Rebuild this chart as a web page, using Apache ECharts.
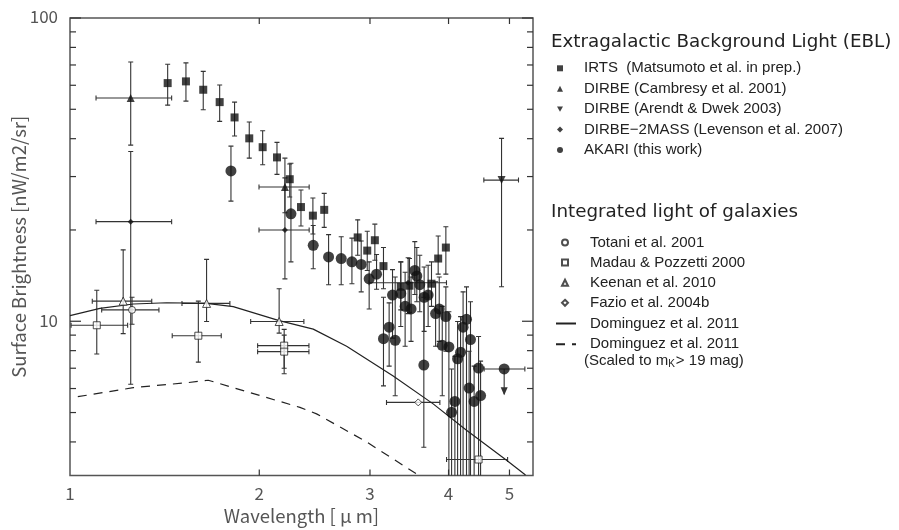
<!DOCTYPE html>
<html>
<head>
<meta charset="utf-8">
<script src="https://cdn.jsdelivr.net/npm/echarts@6/dist/echarts.min.js"></script>
<style>
  html, body { margin: 0; padding: 0; background: #fff; }
  #chart { width: 899px; height: 530px; }
</style>
</head>
<body>
<div id="chart"></div>
<script>
// axis range (wavelength in micron, surface brightness in nW/m2/sr)
const X_MIN = 1, X_MAX = 5.45, Y_MIN = 3.1, Y_MAX = 100;

const xTickVals = [1, 2, 3, 4, 5];
const xTickLabels = ['1', '2', '3', '4', '5'];
const yMajorTicks = [10, 100];
const yMinorTicks = [4, 5, 6, 7, 8, 9, 20, 30, 40, 50, 60, 70, 80, 90];

// IRTS (Matsumoto et al.)
const irtsX  = [1.430, 1.529, 1.629, 1.730, 1.827, 1.928, 2.025, 2.134, 2.236, 2.330, 2.434, 2.537, 2.868, 2.970, 3.054, 3.152, 3.358, 3.467, 3.758, 3.851, 3.961];
const irtsY  = [61.0, 61.8, 58.0, 52.8, 47.0, 40.1, 37.5, 34.7, 29.4, 23.8, 22.3, 23.3, 18.9, 17.1, 18.5, 15.2, 13.0, 13.1, 13.3, 16.1, 17.5];
const irtsLo = [51.6, 53.2, 49.8, 45.6, 40.8, 34.5, 32.8, 30.5, 25.7, 20.6, 19.4, 20.4, 16.5, 14.7, 15.9, 12.8, 10.9, 10.7, 11.2, 14.3, 14.3];
const irtsHi = [70.4, 71.1, 66.7, 60.1, 52.8, 45.4, 42.5, 38.9, 33.0, 27.1, 25.5, 26.4, 21.6, 19.8, 20.9, 17.5, 15.7, 16.1, 15.7, 19.1, 20.5];

// DIRBE (Cambresy et al. 2001)
const cambX   = [1.249, 2.197];
const cambY   = [54.5, 27.7];
const cambXLo = [1.100, 1.998];
const cambXHi = [1.451, 2.401];
const cambLo  = [38.1, 22.8];
const cambHi  = [71.6, 34.5];

// DIRBE (Arendt & Dwek 2003)
const arendtX   = [4.857];
const arendtY   = [29.2];
const arendtXLo = [4.552];
const arendtXHi = [5.168];
const arendtLo  = [13.0];
const arendtHi  = [40.1];

// DIRBE-2MASS (Levenson et al. 2007)
const levX   = [1.249, 2.197, 3.45];
const levY   = [21.3, 20.0, 13.4];
const levXLo = [1.100, 1.998, 2.99];
const levXHi = [1.451, 2.401, 3.97];
const levLo  = [6.20, 13.8, 10.6];
const levHi  = [36.3, 29.7, 16.2];

// AKARI (this work)
const akariX  = [1.803, 2.246, 2.437, 2.578, 2.700, 2.808, 2.905, 2.991, 3.073, 3.152, 3.218, 3.290, 3.258, 3.358, 3.412, 3.487, 3.535, 3.561, 3.600, 3.658, 3.712, 3.654, 3.815, 3.866, 3.909, 3.961, 4.005, 4.135, 4.180, 4.219, 4.272, 4.335, 4.465, 4.313, 4.498, 4.393, 4.094, 4.045];
const akariY  = [31.3, 22.6, 17.8, 16.3, 16.1, 15.7, 15.4, 13.8, 14.3, 8.76, 9.56, 8.65, 12.2, 12.35, 11.2, 10.98, 14.7, 14.1, 13.2, 12.0, 12.2, 7.17, 10.6, 10.98, 8.33, 10.36, 8.23, 7.52, 7.90, 9.56, 10.15, 8.70, 7.01, 6.02, 5.69, 5.44, 5.44, 5.01];
const akariLo = [24.9, 15.7, 14.9, 13.2, 13.2, 13.3, 12.5, 10.98, 12.75, 6.12, 7.11, 5.68, 8.80, 9.61, 8.27, 8.58, 12.25, 11.6, 10.75, 9.26, 9.61, 3.84, 8.27, 8.58, 5.68, 7.96, 3.0, 3.0, 3.0, 3.0, 3.0, 3.0, 3.0, 3.0, 3.0, 3.0, 3.0, 3.0];
const akariHi = [37.8, 33.2, 20.7, 19.3, 19.0, 18.8, 18.4, 15.7, 16.6, 12.0, 11.5, 14.0, 14.8, 15.7, 14.5, 14.0, 18.3, 17.5, 16.5, 15.1, 15.3, 12.0, 13.5, 14.0, 11.2, 12.98, 10.75, 9.98, 10.36, 12.5, 12.98, 11.6, 8.91, 7.96, 7.39, 7.11, 7.67, 6.96];
// AKARI upper limit
const limX   = [4.904];
const limY   = [6.96];
const limXLo = [4.557];
const limXHi = [5.290];
const limTo  = [5.75];

// Totani et al. 2001
const totX = [1.255], totY = [10.9], totXLo = [1.123], totXHi = [1.385], totLo = [9.78], totHi = [12.0];
// Madau & Pozzetti 2000
const madX   = [1.103, 1.600, 2.191, 2.191, 4.465];
const madY   = [9.70, 8.96, 8.31, 7.94, 3.50];
const madXLo = [1.004, 1.454, 1.988, 1.988, 3.971];
const madXHi = [1.235, 1.740, 2.399, 2.399, 4.966];
const madLo  = [7.80, 7.33, 7.0, 6.71, 3.50];
const madHi  = [12.66, 11.65, 9.4, 9.0, 3.50];
// Keenan et al. 2010
const keeX   = [1.215, 1.649, 2.151];
const keeY   = [11.65, 11.45, 9.98];
const keeXLo = [1.085, 1.507, 1.938];
const keeXHi = [1.349, 1.796, 2.355];
const keeLo  = [9.10, 9.98, 9.14];
const keeHi  = [17.2, 16.0, 12.8];
// Fazio et al. 2004b
const fazX = [3.58], fazY = [5.40], fazXLo = [3.187], fazXHi = [3.875];

// Dominguez et al. 2011 model, and scaled to mK > 19
const domX   = [1.0, 1.116, 1.261, 1.425, 1.649, 1.818, 2.151, 2.437, 2.754, 3.266, 3.781, 4.272, 4.947, 5.303];
const domY   = [10.44, 11.03, 11.40, 11.51, 11.45, 11.17, 10.05, 9.42, 8.27, 6.60, 5.34, 4.37, 3.48, 3.11];
const domScX = [1.029, 1.261, 1.533, 1.659, 2.321, 2.467, 2.963, 3.58];
const domScY = [5.64, 6.04, 6.27, 6.39, 5.20, 4.95, 4.00, 3.11];

const eblNames = ['IRTS  (Matsumoto et al. in prep.)', 'DIRBE (Cambresy et al. 2001)', 'DIRBE (Arendt & Dwek 2003)', 'DIRBE\u22122MASS (Levenson et al. 2007)', 'AKARI (this work)'];
const galNames = ['Totani et al. 2001', 'Madau & Pozzetti 2000', 'Keenan et al. 2010', 'Fazio et al. 2004b'];
const modelNames = ['Dominguez et al. 2011', 'Dominguez et al. 2011 (scaled)'];

const INK = '#111';
const BAR = '#333';
const AXIS_FONT = '"Noto Sans CJK JP", "DejaVu Sans", sans-serif';

function pts(xs, ys) {
  return xs.map((x, i) => [x, ys[i]]);
}
function bars(xs, ys, xlo, xhi, ylo, yhi) {
  return xs.map((x, i) => [x, ys[i],
    xlo ? xlo[i] : x, xhi ? xhi[i] : x,
    ylo ? ylo[i] : ys[i], yhi ? yhi[i] : ys[i]]);
}

const errData = [].concat(
  bars(irtsX, irtsY, null, null, irtsLo, irtsHi),
  bars(cambX, cambY, cambXLo, cambXHi, cambLo, cambHi),
  bars(arendtX, arendtY, arendtXLo, arendtXHi, arendtLo, arendtHi),
  bars(levX, levY, levXLo, levXHi, levLo, levHi),
  bars(akariX, akariY, null, null, akariLo, akariHi),
  bars(limX, limY, limXLo, limXHi, null, null),
  bars(totX, totY, totXLo, totXHi, totLo, totHi),
  bars(madX, madY, madXLo, madXHi, madLo, madHi),
  bars(keeX, keeY, keeXLo, keeXHi, keeLo, keeHi),
  bars(fazX, fazY, fazXLo, fazXHi, null, null)
);

function seg(x1, y1, x2, y2, w) {
  return { type: 'line', shape: { x1, y1, x2, y2 }, style: { stroke: BAR, lineWidth: w || 1.1 } };
}

function renderErr(params, api) {
  const x = api.value(0), y = api.value(1);
  const xl = api.value(2), xh = api.value(3), yl = api.value(4), yh = api.value(5);
  const kids = [];
  const cap = 2.5;
  if (yl !== yh) {
    const a = api.coord([x, yl]), b = api.coord([x, yh]);
    kids.push(seg(a[0], a[1], b[0], b[1]));
    kids.push(seg(a[0] - cap, a[1], a[0] + cap, a[1]));
    kids.push(seg(b[0] - cap, b[1], b[0] + cap, b[1]));
  }
  if (xl !== xh) {
    const a = api.coord([xl, y]), b = api.coord([xh, y]);
    kids.push(seg(a[0], a[1], b[0], b[1]));
    kids.push(seg(a[0], a[1] - cap, a[0], a[1] + cap));
    kids.push(seg(b[0], b[1] - cap, b[0], b[1] + cap));
  }
  return { type: 'group', children: kids };
}

function renderLimit(params, api) {
  const p = api.coord([api.value(0), api.value(1)]);
  const e = api.coord([api.value(0), api.value(2)]);
  return {
    type: 'group',
    children: [
      seg(p[0], p[1], e[0], e[1]),
      { type: 'polygon', shape: { points: [[e[0] - 3.5, e[1] - 7], [e[0] + 3.5, e[1] - 7], [e[0], e[1] + 1]] }, style: { fill: BAR } }
    ]
  };
}

function renderXTicks(params, api) {
  const x = api.value(0);
  const b = api.coord([x, Y_MIN]);
  const t = api.coord([x, Y_MAX]);
  const kids = [];
  if (x > X_MIN) {
    kids.push(seg(b[0], b[1], b[0], b[1] - 6, 1.2));
    kids.push(seg(t[0], t[1], t[0], t[1] + 6, 1.2));
  }
  kids.push({
    type: 'text',
    style: {
      text: xTickLabels[params.dataIndex], x: b[0], y: b[1] + 18,
      align: 'center', verticalAlign: 'middle', textAlign: 'center', textVerticalAlign: 'middle',
      font: '17px ' + AXIS_FONT, fill: '#555'
    }
  });
  return { type: 'group', children: kids };
}

function renderYTicks(params, api) {
  const v = api.value(1);
  const major = api.value(2) === 1;
  const l = api.coord([X_MIN, v]);
  const r = api.coord([X_MAX, v]);
  const len = major ? 11 : 6;
  const kids = [
    seg(l[0], l[1], l[0] + len, l[1], 1.2),
    seg(r[0], r[1], r[0] - len, r[1], 1.2)
  ];
  if (major) {
    kids.push({
      type: 'text',
      style: {
        text: String(v), x: l[0] - 12, y: l[1] - 1,
        align: 'right', verticalAlign: 'middle', textAlign: 'right', textVerticalAlign: 'middle',
        font: '17px ' + AXIS_FONT, fill: '#555'
      }
    });
  }
  return { type: 'group', children: kids };
}

const yTickData = yMajorTicks.map(v => [X_MIN, v, 1]).concat(yMinorTicks.map(v => [X_MIN, v, 0]));

const filled = { color: INK };
const open = { color: '#fff', borderColor: '#222', borderWidth: 1 };
const legendText = { fontFamily: 'Liberation Sans', fontSize: 15, color: '#222', lineHeight: 16 };
const hideDot = { color: 'rgba(0,0,0,0)', borderWidth: 0, opacity: 0 };

const chart = echarts.init(document.getElementById('chart'));
const option = {
  animation: false,
  backgroundColor: '#fff',
  grid: { left: 70, right: 366, top: 18, bottom: 50, show: true, borderColor: '#555', borderWidth: 1.5 },
  xAxis: {
    type: 'log', logBase: 10, min: X_MIN, max: X_MAX,
    name: 'Wavelength [ \u03bc m]', nameLocation: 'middle', nameGap: 31,
    nameTextStyle: { fontFamily: AXIS_FONT, fontSize: 18.5, color: '#555' },
    axisLine: { show: false }, axisTick: { show: false }, axisLabel: { show: false }, splitLine: { show: false }
  },
  yAxis: {
    type: 'log', logBase: 10, min: Y_MIN, max: Y_MAX,
    name: 'Surface Brightness [nW/m2/sr]', nameLocation: 'middle', nameGap: 42, nameRotate: 90,
    nameTextStyle: { fontFamily: AXIS_FONT, fontSize: 18.5, color: '#555' },
    axisLine: { show: false }, axisTick: { show: false }, axisLabel: { show: false }, splitLine: { show: false }
  },
  legend: [
    {
      data: eblNames.map((n, i) => i === 2 ? { name: n, icon: 'path://M0,0L10,0L5,8.66Z' } : n),
      orient: 'vertical', left: 552, top: 55.3,
      itemWidth: 6, itemHeight: 6, itemGap: 4.4, selectedMode: false,
      textStyle: Object.assign({ padding: [0, 0, 0, 16] }, legendText)
    },
    {
      data: galNames, orient: 'vertical', left: 556, top: 229.5,
      itemWidth: 6, itemHeight: 6, itemGap: 4.1, selectedMode: false,
      textStyle: Object.assign({ padding: [0, 0, 0, 17] }, legendText)
    },
    {
      data: modelNames.map(n => ({ name: n, itemStyle: hideDot })), orient: 'vertical', left: 550, top: 310.5,
      itemWidth: 20, itemHeight: 6, itemGap: 4.7, selectedMode: false,
      formatter: n => n.replace(' (scaled)', ''),
      textStyle: Object.assign({ padding: [0, 0, 0, 9] }, legendText)
    }
  ],
  graphic: [
    { type: 'text', left: 551, top: 33, style: { text: 'Extragalactic Background Light (EBL)', font: '18.3px "DejaVu Sans"', fill: '#222' } },
    { type: 'text', left: 551, top: 203, style: { text: 'Integrated light of galaxies', font: '18.3px "DejaVu Sans"', fill: '#222' } },
    {
      type: 'text', left: 584, top: 353,
      style: {
        text: '(Scaled to m{sub|K}> 19 mag)', font: '15px "Liberation Sans"', fill: '#222',
        rich: { sub: { fontSize: 10, fontFamily: 'Liberation Sans', padding: [8, 1, 0, 0], fill: '#222' } }
      }
    }
  ],
  series: [
    { type: 'custom', name: 'errors', renderItem: renderErr, data: errData, encode: { x: 0, y: 1 }, clip: true, z: 2, silent: true },
    { type: 'custom', name: 'limit', renderItem: renderLimit, data: limX.map((x, i) => [x, limY[i], limTo[i]]), encode: { x: 0, y: 1 }, clip: true, z: 2, silent: true },
    { type: 'custom', name: 'xticks', renderItem: renderXTicks, data: xTickVals.map(v => [v, Y_MIN]), encode: { x: 0, y: 1 }, clip: false, z: 5, silent: true },
    { type: 'custom', name: 'yticks', renderItem: renderYTicks, data: yTickData, encode: { x: 0, y: 1 }, clip: false, z: 5, silent: true },
    { type: 'line', name: modelNames[0], data: pts(domX, domY), symbol: 'none', lineStyle: { color: '#222', width: 1.2 }, itemStyle: { color: '#222' }, z: 3 },
    { type: 'line', name: modelNames[1], data: pts(domScX, domScY), symbol: 'none', lineStyle: { color: '#222', width: 1.2, type: [9, 7] }, itemStyle: { color: '#222' }, z: 3 },
    { type: 'scatter', name: eblNames[0], data: pts(irtsX, irtsY), symbol: 'rect', symbolSize: 8, itemStyle: filled, z: 4 },
    { type: 'scatter', name: eblNames[1], data: pts(cambX, cambY), symbol: 'triangle', symbolSize: 8, itemStyle: filled, z: 4 },
    { type: 'scatter', name: eblNames[2], data: pts(arendtX, arendtY), symbol: 'triangle', symbolRotate: 180, symbolSize: 8, itemStyle: filled, z: 4 },
    { type: 'scatter', name: eblNames[3], data: pts(levX, levY), symbol: 'diamond', symbolSize: 6, itemStyle: filled, z: 4 },
    { type: 'scatter', name: eblNames[4], data: pts(akariX, akariY).concat(pts(limX, limY)), symbol: 'circle', symbolSize: 11, itemStyle: filled, z: 4 },
    { type: 'scatter', name: galNames[0], data: pts(totX, totY), symbol: 'circle', symbolSize: 7, itemStyle: open, z: 4 },
    { type: 'scatter', name: galNames[1], data: pts(madX, madY), symbol: 'rect', symbolSize: 7, itemStyle: open, z: 4 },
    { type: 'scatter', name: galNames[2], data: pts(keeX, keeY), symbol: 'triangle', symbolSize: 8, itemStyle: open, z: 4 },
    { type: 'scatter', name: galNames[3], data: pts(fazX, fazY), symbol: 'diamond', symbolSize: 7, itemStyle: open, z: 4 }
  ]
};
chart.setOption(option);
</script>
</body>
</html>
